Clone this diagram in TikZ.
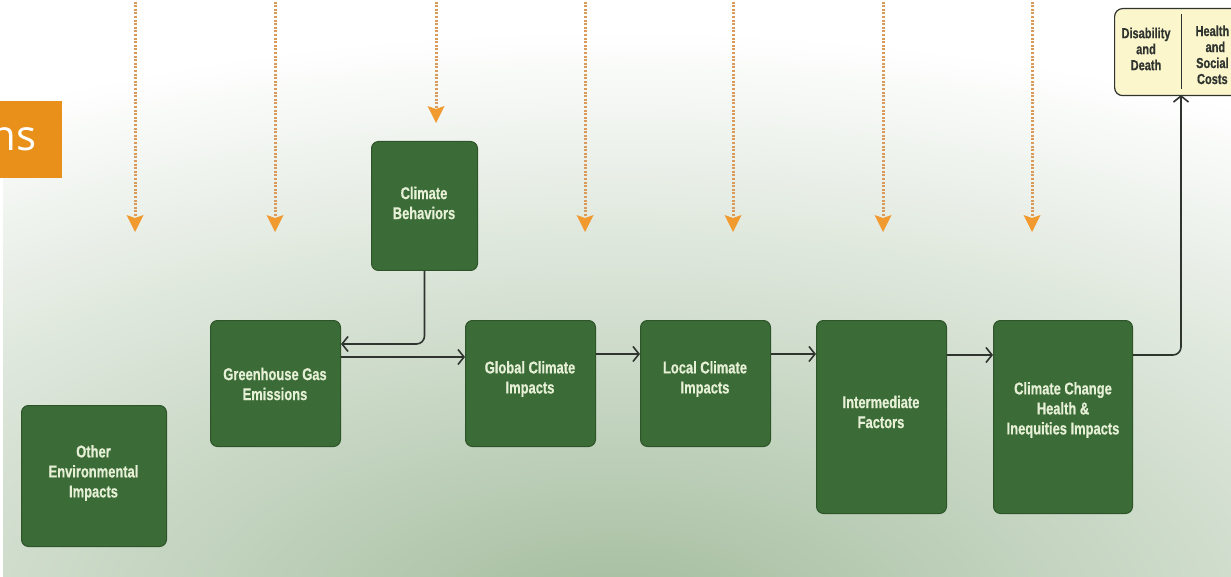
\documentclass[tikz,border=0pt]{standalone}
\usepackage{fontspec}
\setmainfont{Liberation Sans}
\newfontfamily\condfont[FakeStretch=0.76,FakeBold=0.6]{Liberation Sans}
\newfontfamily\orgfont{Open Sans}
\usetikzlibrary{arrows.meta}
\definecolor{boxgreen}{HTML}{3B6B36}
\definecolor{boxedge}{HTML}{2E5529}
\definecolor{boxtext}{HTML}{E6F0D6}
\definecolor{bggreen}{HTML}{A3BC9D}
\definecolor{orangebox}{HTML}{E8901A}
\definecolor{dotorange}{HTML}{D99A5A}
\definecolor{tiporange}{HTML}{F09A30}
\definecolor{linegray}{HTML}{2F342F}
\definecolor{paleyellow}{HTML}{FBF6CC}
\tikzset{
  gbox/.style={draw=boxedge, line width=1pt, fill=boxgreen, rounded corners=7pt,
    inner sep=0pt, anchor=north west},
  gtext/.style={text=boxtext, font=\condfont\bfseries\fontsize{17}{20}\selectfont, align=center},
  ytext/.style={text=linegray, font=\condfont\bfseries\fontsize{14.5}{16}\selectfont, align=center},
  flow/.style={draw=linegray, line width=1.6pt, -{Straight Barb[length=6pt,width=15pt,line width=1.6pt]}},
  dotarrow/.style={draw=dotorange, line width=3pt, dash pattern=on 2pt off 1.6pt,
    -{Stealth[length=17pt,width=17pt,inset=3pt,color=tiporange,fill=tiporange,line width=0pt]}},
}
\begin{document}
\begin{tikzpicture}[x=1pt,y=-1pt]
\useasboundingbox (0,0) rectangle (1231,577);
\clip (0,0) rectangle (1231,577);
% background
\fill[white] (0,0) rectangle (1231,577);
\shade[inner color=bggreen, outer color=white] (-650,30) rectangle (1880,1210);
\fill[white] (0,0) rectangle (3,577);

% orange tab
\node[fill=orangebox, minimum width=62pt, minimum height=77pt, inner sep=0pt, anchor=north west] (tab) at (0,101) {};
\node[text=white, font=\orgfont\fontsize{42}{42}\selectfont, anchor=east] (tabtext) at (40,139) {ns};

% dotted arrows
\foreach \n/\x/\yy in {a/135/232, b/275/232, c/436/123, d/585/232, e/733/232, f/883/232, g/1032/232} {
  \coordinate (top\n) at (\x,-2);
  \coordinate (tip\n) at (\x,\yy);
  \draw[dotarrow] (top\n) -- (tip\n);
}

% boxes
\node[gbox, minimum width=106pt, minimum height=129pt] (beh) at (371,141) {};
\node[gtext] at (424,203) {Climate\\Behaviors};

\node[gbox, minimum width=130pt, minimum height=126pt] (ghg) at (210,320) {};
\node[gtext] at (275,384) {Greenhouse Gas\\Emissions};

\node[gbox, minimum width=130pt, minimum height=126pt] (glob) at (465,320) {};
\node[gtext] at (530,379) {Global Climate\\Impacts};

\node[gbox, minimum width=130pt, minimum height=126pt] (loc) at (640,320) {};
\node[gtext] at (705,379) {Local Climate\\Impacts};

\node[gbox, minimum width=130pt, minimum height=193pt] (inter) at (816,320) {};
\node[gtext] at (881,412) {Intermediate\\Factors};

\node[gbox, minimum width=139pt, minimum height=193pt] (cc) at (993,320) {};
\node[gtext] at (1063,410) {Climate Change\\Health \&\\Inequities Impacts};

\node[gbox, minimum width=145pt, minimum height=141pt] (other) at (21,405) {};
\node[gtext] at (93.5,473) {Other\\Environmental\\Impacts};

% outcome box
\node[draw=linegray, line width=1.2pt, fill=paleyellow, rounded corners=8pt,
  minimum width=140pt, minimum height=87pt, inner sep=0pt, anchor=north west] (out) at (1114,8) {};
\draw[linegray, line width=1pt] (1181,14) -- (1181,89);
\node[ytext] at (1146,49) {Disability\\and\\Death};
\node[ytext, anchor=north west] at (1192,22) {Health\\\hspace*{6pt}and\\Social\\Costs};

% connectors
\draw[flow, rounded corners=8pt] (beh.south) |- ([yshift=-24pt]ghg.north east);
\draw[flow] ([yshift=-37pt]ghg.north east) -- ([yshift=-37pt]glob.north west);
\draw[flow] ([yshift=-34pt]glob.north east) -- ([yshift=-34pt]loc.north west);
\draw[flow] ([yshift=-34pt]loc.north east) -- ([yshift=-34pt]inter.north west);
\draw[flow] ([yshift=-35pt]inter.north east) -- ([yshift=-35pt]cc.north west);
\coordinate (outin) at (1181,95);
\draw[flow, rounded corners=8pt] ([yshift=-35pt]cc.north east) -| (outin);
\end{tikzpicture}
\end{document}
